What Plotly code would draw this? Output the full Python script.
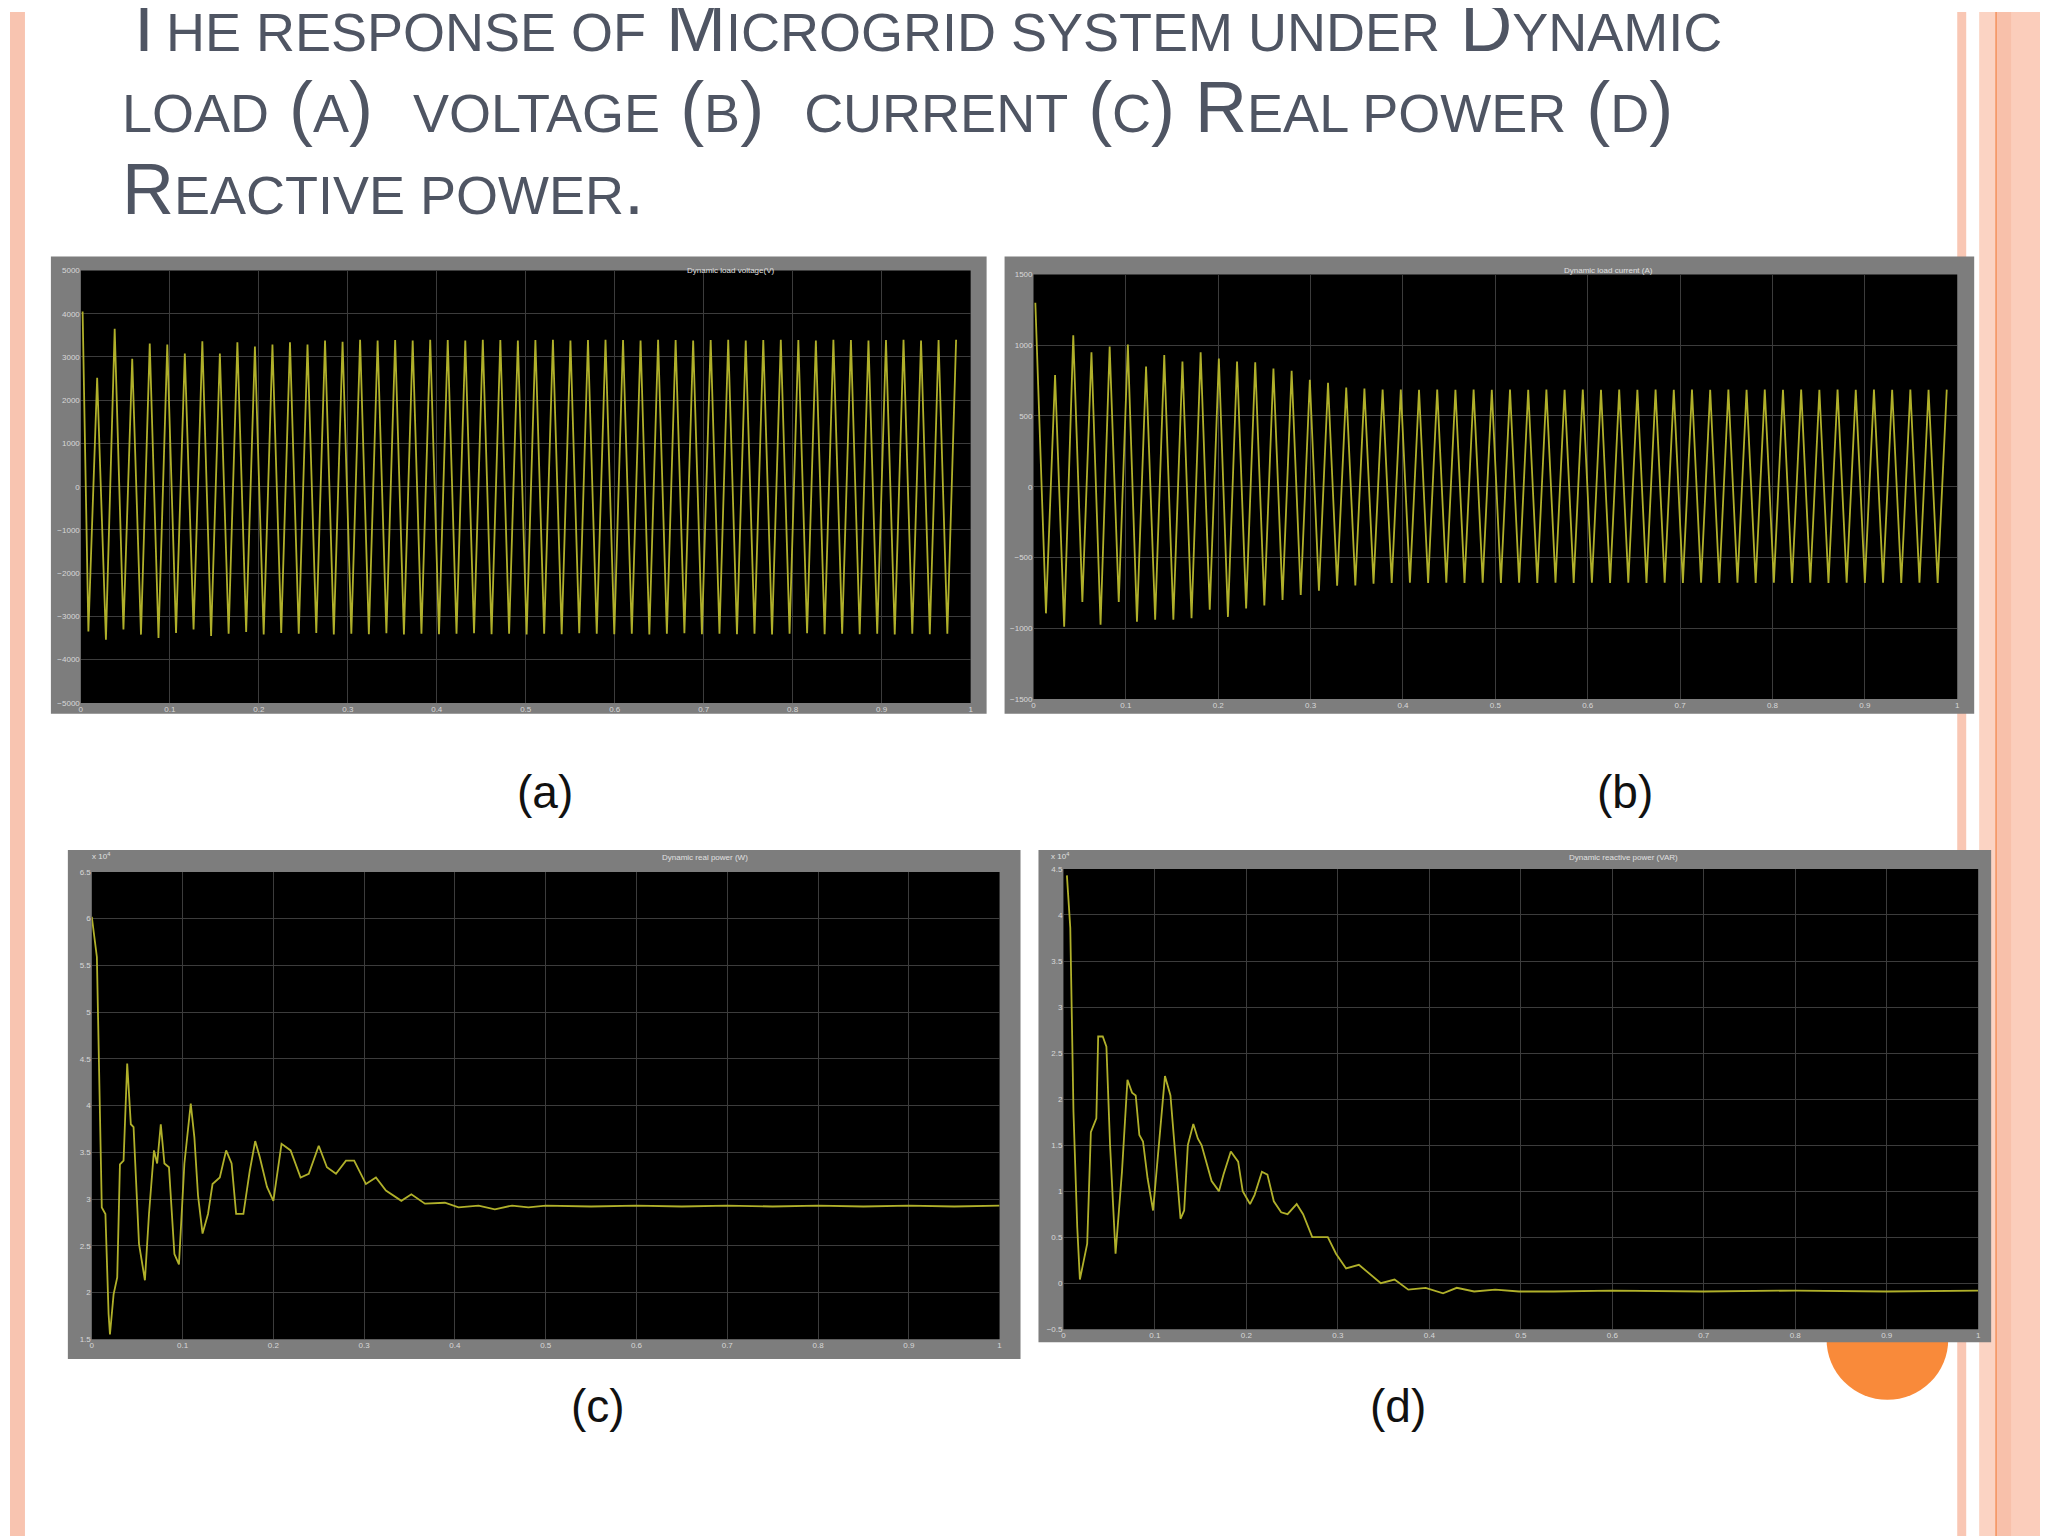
import numpy as np
import plotly.graph_objects as go

W, H = 2048, 1536
OFF = 10  # layout calibration (px)

# ---------------- data ----------------
# (a) voltage: positive / negative peaks of each cycle (V)
a_start = 4050
a_pos = [2520, 3650, 2960, 3310, 3290, 3080, 3360, 3080, 3340, 3240, 3290, 3340, 3290, 3380, 3350,
         3400, 3380, 3390, 3380, 3400, 3390, 3380, 3400, 3390, 3380, 3390, 3400, 3380, 3390, 3400,
         3390, 3380, 3400, 3390, 3380, 3390, 3400, 3380, 3390, 3400, 3390, 3380, 3400, 3390, 3380,
         3390, 3400, 3380, 3390, 3400]
a_neg = [-3350, -3540, -3300, -3420, -3500, -3380, -3300, -3450, -3400, -3360, -3420, -3380, -3400, -3380, -3420,
         -3400, -3410, -3390, -3420, -3400, -3410, -3400, -3390, -3410, -3400, -3420, -3400, -3410, -3390, -3400,
         -3410, -3400, -3420, -3400, -3390, -3410, -3400, -3410, -3400, -3420, -3400, -3390, -3410, -3400, -3410,
         -3400, -3420, -3400, -3410, -3400]
# (b) current peaks (A)
b_start = 1300
b_pos = [790, 1070, 950, 990, 1005, 850, 930, 885, 950, 905, 885, 880, 835, 820, 755,
         735, 700, 693, 686, 686, 684, 686, 685, 686, 684, 686, 685, 686, 684, 686,
         685, 686, 684, 686, 685, 686, 684, 686, 685, 686, 684, 686, 685, 686, 684,
         686, 685, 686, 684, 686]
b_neg = [-895, -990, -815, -975, -815, -955, -940, -940, -930, -870, -920, -860, -840, -800, -765,
         -735, -700, -698, -686, -680, -678, -680, -679, -680, -678, -680, -679, -680, -678, -680,
         -679, -680, -678, -680, -679, -680, -678, -680, -679, -680, -678, -680, -679, -680, -678,
         -680, -679, -680, -678, -680]
# (c) real power (x10^4 W)
c_t = [0, 0.0056, 0.011, 0.015, 0.0185, 0.020, 0.024, 0.028, 0.031, 0.035, 0.039, 0.043, 0.046, 0.052, 0.0585,
       0.063, 0.0685, 0.072, 0.076, 0.080, 0.085, 0.091, 0.096, 0.102, 0.109, 0.113, 0.117, 0.122, 0.128, 0.133,
       0.141, 0.148, 0.154, 0.159, 0.167, 0.174, 0.180, 0.185, 0.193, 0.200, 0.209, 0.219, 0.230, 0.239, 0.250,
       0.259, 0.269, 0.280, 0.289, 0.302, 0.313, 0.324, 0.341, 0.352, 0.367, 0.389, 0.404, 0.426, 0.444, 0.463,
       0.481, 0.5, 0.55, 0.6, 0.65, 0.7, 0.75, 0.8, 0.85, 0.9, 0.95, 1.0]
c_v = [6.02, 5.59, 2.91, 2.84, 1.77, 1.55, 1.98, 2.16, 3.37, 3.41, 4.45, 3.80, 3.77, 2.52, 2.13,
       2.84, 3.52, 3.38, 3.80, 3.38, 3.34, 2.41, 2.30, 3.38, 4.02, 3.66, 3.04, 2.63, 2.84, 3.16,
       3.23, 3.52, 3.38, 2.84, 2.84, 3.30, 3.62, 3.45, 3.13, 2.98, 3.59, 3.52, 3.23, 3.27, 3.57,
       3.34, 3.27, 3.41, 3.41, 3.16, 3.23, 3.09, 2.98, 3.05, 2.95, 2.96, 2.91, 2.93, 2.89, 2.93,
       2.91, 2.93, 2.92, 2.93, 2.92, 2.93, 2.92, 2.93, 2.92, 2.93, 2.92, 2.93]
# (d) reactive power (x10^4 VAR)
d_t = [0.0038, 0.0075, 0.011, 0.0151, 0.018, 0.0226, 0.026, 0.030, 0.036, 0.038, 0.043, 0.047, 0.051, 0.057, 0.064,
       0.070, 0.075, 0.079, 0.083, 0.087, 0.092, 0.098, 0.104, 0.111, 0.117, 0.125, 0.128, 0.132, 0.136, 0.142,
       0.147, 0.151, 0.157, 0.162, 0.170, 0.175, 0.183, 0.191, 0.196, 0.204, 0.209, 0.217, 0.223, 0.230, 0.238,
       0.245, 0.255, 0.262, 0.272, 0.279, 0.289, 0.298, 0.309, 0.323, 0.334, 0.347, 0.362, 0.377, 0.396, 0.415,
       0.430, 0.449, 0.472, 0.498, 0.536, 0.6, 0.7, 0.8, 0.9, 1.0]
d_v = [4.43, 3.86, 1.86, 0.61, 0.04, 0.25, 0.43, 1.64, 1.79, 2.68, 2.68, 2.57, 1.50, 0.32, 1.21,
       2.21, 2.07, 2.04, 1.61, 1.54, 1.14, 0.79, 1.50, 2.25, 2.04, 1.07, 0.70, 0.79, 1.50, 1.73,
       1.57, 1.50, 1.29, 1.11, 1.00, 1.18, 1.43, 1.32, 1.00, 0.86, 0.96, 1.21, 1.18, 0.89, 0.77,
       0.75, 0.86, 0.75, 0.50, 0.50, 0.50, 0.32, 0.16, 0.20, 0.11, 0.0, 0.04, -0.07, -0.05, -0.11,
       -0.05, -0.09, -0.07, -0.09, -0.09, -0.08, -0.09, -0.08, -0.09, -0.08]

x_ticks = [0, 0.1, 0.2, 0.3, 0.4, 0.5, 0.6, 0.7, 0.8, 0.9, 1]
titles = ["Dynamic load voltage(V)", "Dynamic load current (A)", "Dynamic real power (W)", "Dynamic reactive power (VAR)"]
captions = ["(a)", "(b)", "(c)", "(d)"]


def cycles(start, first, second, t0, per):
    t, v = [0.002], [start]
    for k in range(len(first)):
        t.append(t0 + per * k); v.append(first[k])
        t.append(t0 + per * k + per / 2); v.append(second[k])
    return t, v


ta, va = cycles(a_start, a_neg, a_pos, 0.0085, 0.0197)
tb, vb = cycles(b_start, b_neg, b_pos, 0.0135, 0.0197)


def px(x):
    return (x - OFF) / W


def py(y):
    return 1 - (y - OFF) / H


plots = [(81, 973, 270, 705), (1036, 1962, 274, 701), (92, 1002, 875, 1345), (1066, 1983, 872, 1335)]
frames = [(51, 989, 256, 716), (1007, 1979, 256, 716), (68, 1023, 853, 1365), (1041, 1996, 853, 1348)]
yranges = [(-5000, 5000), (-1500, 1500), (1.5, 6.5), (-0.5, 4.5)]
ydt = [1000, 500, 0.5, 0.5]

fig = go.Figure()
line_col = "#b0b02a"
traces = [(ta, va), (tb, vb), (c_t, c_v), (d_t, d_v)]
for i, (t, v) in enumerate(traces):
    ax = "" if i == 0 else str(i + 1)
    fig.add_trace(go.Scatter(x=t, y=v, mode="lines", line=dict(color=line_col, width=1.8),
                             xaxis="x" + ax, yaxis="y" + ax, showlegend=False, hoverinfo="skip"))

shapes = []
shapes.append(dict(type="circle", xref="paper", yref="paper", layer="below",
                   x0=px(1892 - 61), x1=px(1892 + 61), y0=py(1345 + 61), y1=py(1345 - 61),
                   fillcolor="#f98a3a", line=dict(width=0)))
for (x0, x1, c) in [(10, 25, "#f8c4b0"), (1962, 1971, "#f9c7b4"), (1984, 2000, "#fbd3c3"),
                    (2000, 2002, "#f59a6a"), (2002, 2060, "#fbcdbb"), (2002, 2016, "#f8c0aa")]:
    shapes.append(dict(type="rect", xref="paper", yref="paper", layer="below",
                       x0=px(x0), x1=px(x1), y0=0, y1=1, fillcolor=c, line=dict(width=0)))
for (x0, x1, y0, y1) in frames:
    shapes.append(dict(type="rect", xref="paper", yref="paper", layer="below",
                       x0=px(x0), x1=px(x1), y0=py(y1), y1=py(y0),
                       fillcolor="#7d7d7d", line=dict(width=0)))
for (x0, x1, y0, y1) in plots:
    shapes.append(dict(type="rect", xref="paper", yref="paper", layer="below",
                       x0=px(x0), x1=px(x1), y0=py(y1), y1=py(y0),
                       fillcolor="#000000", line=dict(width=0)))

layout = dict(width=W, height=H, margin=dict(l=0, r=0, t=0, b=0),
              paper_bgcolor="#ffffff", plot_bgcolor="rgba(0,0,0,0)", shapes=shapes, showlegend=False)
for i, ((x0, x1, y0, y1), yr, dt) in enumerate(zip(plots, yranges, ydt)):
    ax = "" if i == 0 else str(i + 1)
    grid = dict(showgrid=True, gridcolor="#3c3c3c", gridwidth=1, zeroline=False,
                ticks="", tickfont=dict(size=8, color="#d8d8d8", family="Liberation Sans"))
    layout["xaxis" + ax] = dict(domain=[px(x0), px(x1)], anchor="y" + ax, range=[0, 1],
                                tickvals=x_ticks, **grid)
    layout["yaxis" + ax] = dict(domain=[py(y1), py(y0)], anchor="x" + ax, range=list(yr),
                                dtick=dt, **grid)
fig.update_layout(**layout)

ann = []
for i, ((x0, x1, y0, y1), fr) in enumerate(zip(plots, frames)):
    ann.append(dict(x=px((x0 + x1) / 2 + 160), y=py(fr[2] + 7), xref="paper", yref="paper",
                    text=titles[i], showarrow=False, font=dict(size=8, color="#e0e0e0", family="Liberation Sans")))
for i in (2, 3):
    fr = frames[i]
    ann.append(dict(x=px(fr[0] + 22), y=py(fr[2] + 6), xref="paper", yref="paper",
                    text="x 10<sup>4</sup>", showarrow=False,
                    font=dict(size=8, color="#e0e0e0", family="Liberation Sans")))
for txt, (cx, cy) in zip(captions, [(516, 795), (1659, 795), (570, 1440), (1431, 1440)]):
    ann.append(dict(x=px(cx), y=py(cy), xref="paper", yref="paper", text=txt, showarrow=False,
                    font=dict(size=46, color="#111111", family="Liberation Sans")))


def sm(s):
    return '<span style="font-size:54px">' + s + '</span>'


title_lines = [
    "T" + sm("HE RESPONSE OF") + " M" + sm("ICROGRID SYSTEM UNDER") + " D" + sm("YNAMIC"),
    sm("LOAD") + " (" + sm("A") + ")  " + sm("VOLTAGE") + " (" + sm("B") + ")  " + sm("CURRENT")
    + " (" + sm("C") + ") R" + sm("EAL POWER") + " (" + sm("D") + ")",
    "R" + sm("EACTIVE POWER") + ".",
]
for txt, yc in zip(title_lines, [24, 106, 188]):
    ann.append(dict(x=px(120), y=py(yc), xref="paper", yref="paper", text=txt, showarrow=False,
                    xanchor="left", yanchor="middle",
                    font=dict(size=72, color="#4f5563", family="Liberation Sans")))
fig.update_layout(annotations=ann)
fig.write_html("out.html")
